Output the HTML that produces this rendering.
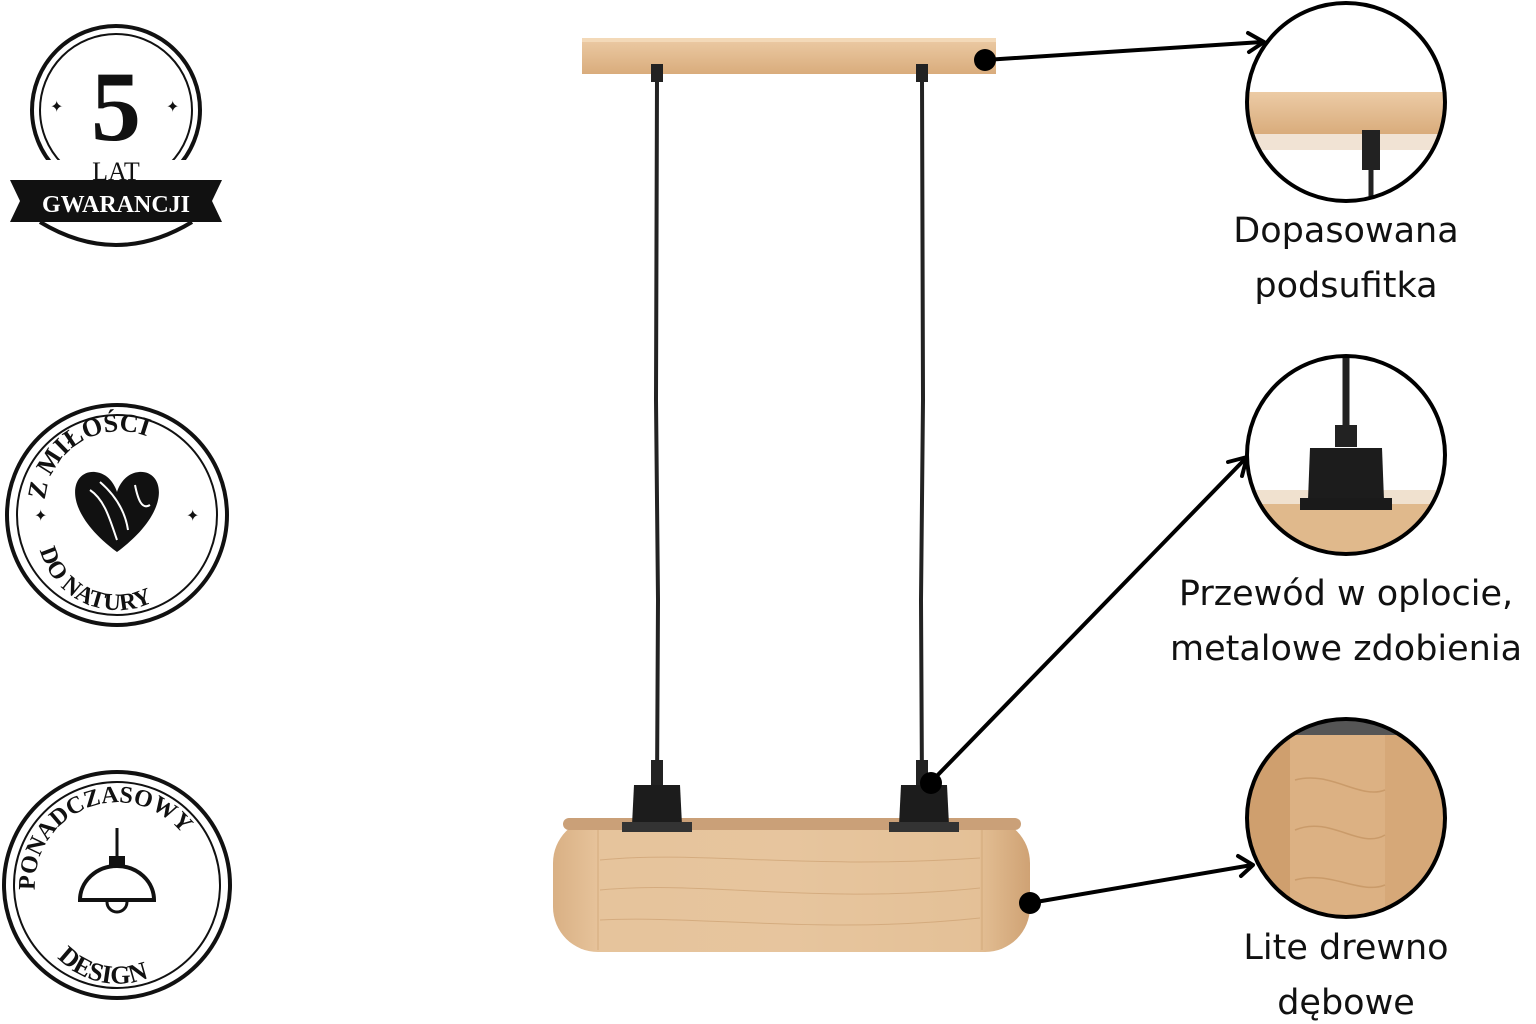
<!DOCTYPE html>
<html><head><meta charset="utf-8"><style>
html,body{margin:0;padding:0;background:#fff;}
svg{display:block;}
</style></head><body>
<svg width="1536" height="1024" viewBox="0 0 1536 1024" xmlns="http://www.w3.org/2000/svg" font-family="Liberation Sans, sans-serif">
<defs>
<linearGradient id="wood" x1="0" y1="0" x2="1" y2="0">
<stop offset="0" stop-color="#d9b084"/><stop offset="0.1" stop-color="#e7c49c"/><stop offset="0.5" stop-color="#e8c7a0"/><stop offset="0.9" stop-color="#e2bd92"/><stop offset="1" stop-color="#cfa274"/>
</linearGradient>
<linearGradient id="bar" x1="0" y1="0" x2="0" y2="1">
<stop offset="0" stop-color="#eccba5"/><stop offset="1" stop-color="#d9ac7c"/>
</linearGradient>
<clipPath id="c1"><circle cx="1346" cy="102" r="99"/></clipPath>
<clipPath id="c2"><circle cx="1346" cy="455" r="99"/></clipPath>
<clipPath id="c3"><circle cx="1346" cy="818" r="99"/></clipPath>
</defs>

<!-- Badge 1 -->
<circle cx="116" cy="110" r="84" fill="none" stroke="#111" stroke-width="4"/>
<circle cx="116" cy="110" r="76" fill="none" stroke="#111" stroke-width="2"/>
<path d="M40 222 Q116 268 192 222" fill="none" stroke="#111" stroke-width="4"/>
<rect x="40" y="160" width="152" height="30" fill="#fff"/>
<text x="116" y="140" font-family="Liberation Serif, serif" font-weight="bold" font-size="100" text-anchor="middle" fill="#111">5</text>
<text x="116" y="180" font-family="Liberation Serif, serif" font-size="26" text-anchor="middle" fill="#111">LAT</text>
<polygon points="10,180 222,180 212,201 222,222 10,222 20,201" fill="#111"/>
<text x="116" y="212" font-family="Liberation Serif, serif" font-weight="bold" font-size="24" text-anchor="middle" fill="#fff">GWARANCJI</text>
<text x="50" y="112" font-size="16" fill="#111">✦</text><text x="166" y="112" font-size="16" fill="#111">✦</text>

<!-- Badge 2 -->
<circle cx="117" cy="515" r="110" fill="none" stroke="#111" stroke-width="4"/>
<circle cx="117" cy="515" r="100" fill="none" stroke="#111" stroke-width="2"/>
<path d="M117 552 C60 510 70 470 95 472 C108 473 115 485 117 492 C119 485 126 473 139 472 C164 470 174 510 117 552Z" fill="#111"/>
<path d="M90 490 C105 500 110 520 117 540 M100 482 C115 495 125 510 128 530 M135 485 C138 500 142 510 150 505" stroke="#fff" stroke-width="2" fill="none"/>
<path id="arc2" d="M45 500 A75 75 0 0 1 190 480" fill="none"/>
<text font-family="Liberation Serif, serif" font-weight="bold" font-size="26" fill="#111"><textPath href="#arc2">Z MIŁOŚCI</textPath></text>
<path id="arc2b" d="M40 550 A80 80 0 0 0 195 550" fill="none"/>
<text font-family="Liberation Serif, serif" font-weight="bold" font-size="24" fill="#111"><textPath href="#arc2b">DO NATURY</textPath></text>
<text x="34" y="521" font-size="16" fill="#111">✦</text><text x="186" y="521" font-size="16" fill="#111">✦</text>

<!-- Badge 3 -->
<circle cx="117" cy="885" r="113" fill="none" stroke="#111" stroke-width="4"/>
<circle cx="117" cy="885" r="103" fill="none" stroke="#111" stroke-width="2"/>
<path id="arc3" d="M35 890 A82 82 0 0 1 200 880" fill="none"/>
<text font-family="Liberation Serif, serif" font-weight="bold" font-size="24" fill="#111"><textPath href="#arc3">PONADCZASOWY</textPath></text>
<path id="arc3b" d="M45 940 A82 82 0 0 0 190 940" fill="none"/>
<text font-family="Liberation Serif, serif" font-weight="bold" font-size="26" fill="#111"><textPath href="#arc3b" startOffset="12%">DESIGN</textPath></text>
<line x1="117" y1="828" x2="117" y2="858" stroke="#111" stroke-width="3"/>
<rect x="109" y="856" width="16" height="10" fill="#111"/>
<path d="M80 900 A37 34 0 0 1 154 900 Z" fill="none" stroke="#111" stroke-width="4"/>
<path d="M107 902 A10 10 0 0 0 127 902" fill="none" stroke="#111" stroke-width="3"/>

<!-- canopy -->
<rect x="582" y="38" width="414" height="36" fill="url(#bar)"/>
<rect x="582" y="38" width="414" height="4" fill="#f3d9b8"/>
<rect x="651" y="64" width="12" height="18" fill="#222"/>
<rect x="916" y="64" width="12" height="18" fill="#222"/>
<!-- cables -->
<path d="M657 80 L656 400 L658 600 L657 790" stroke="#222" stroke-width="4" fill="none"/>
<path d="M922 80 L923 400 L921 600 L922 790" stroke="#222" stroke-width="4" fill="none"/>
<rect x="651" y="760" width="12" height="25" fill="#222"/>
<rect x="916" y="760" width="12" height="25" fill="#222"/>
<!-- box -->
<rect x="553" y="818" width="477" height="134" rx="45" ry="45" fill="url(#wood)"/>
<rect x="600" y="822" width="380" height="130" fill="#e5c39b" opacity="0.5"/>
<rect x="563" y="818" width="458" height="12" rx="6" fill="#caa078"/>
<g stroke="#c99c6c" stroke-width="1" opacity="0.6" fill="none">
<path d="M600 860 C700 850 800 870 980 858"/><path d="M600 890 C700 880 820 905 980 888"/><path d="M600 920 C700 915 820 935 980 918"/>
<line x1="598" y1="830" x2="598" y2="950"/><line x1="982" y1="830" x2="982" y2="950"/>
</g>
<!-- sockets -->
<path d="M634 785 L680 785 L682 825 L632 825 Z" fill="#1c1c1c"/>
<rect x="622" y="822" width="70" height="10" fill="#333"/>
<path d="M901 785 L947 785 L949 825 L899 825 Z" fill="#1c1c1c"/>
<rect x="889" y="822" width="70" height="10" fill="#333"/>

<!-- arrows -->
<g stroke="#000" stroke-width="4" fill="none" stroke-linecap="round" stroke-linejoin="round">
<line x1="985" y1="60" x2="1262" y2="42"/><polyline points="1248,33 1264,42 1249,52"/>
<line x1="930" y1="783" x2="1246" y2="458"/><polyline points="1228,462 1247,457 1242,476"/>
<line x1="1030" y1="903" x2="1252" y2="865"/><polyline points="1238,856 1253,865 1241,876"/>
</g>
<circle cx="985" cy="60" r="11" fill="#000"/>
<circle cx="931" cy="783" r="11" fill="#000"/>
<circle cx="1030" cy="903" r="11" fill="#000"/>

<!-- detail circles -->
<g clip-path="url(#c1)">
<rect x="1240" y="0" width="220" height="210" fill="#fff"/>
<rect x="1240" y="92" width="220" height="42" fill="url(#bar)"/>
<rect x="1240" y="134" width="220" height="16" fill="#f1e3d4"/>
<rect x="1362" y="130" width="18" height="40" fill="#222"/>
<line x1="1371" y1="170" x2="1371" y2="210" stroke="#222" stroke-width="5"/>
</g>
<circle cx="1346" cy="102" r="99" fill="none" stroke="#000" stroke-width="4"/>

<g clip-path="url(#c2)">
<rect x="1240" y="350" width="220" height="210" fill="#fff"/>
<line x1="1346" y1="350" x2="1346" y2="430" stroke="#222" stroke-width="7"/>
<rect x="1335" y="425" width="22" height="22" fill="#222"/>
<path d="M1240 495 L1460 495 L1460 560 L1240 560 Z" fill="#e0b98c"/>
<rect x="1240" y="490" width="220" height="14" fill="#f0e1cf"/>
<path d="M1310 448 L1382 448 L1384 500 L1308 500 Z" fill="#1c1c1c"/>
<rect x="1300" y="498" width="92" height="12" fill="#1a1a1a"/>
</g>
<circle cx="1346" cy="455" r="99" fill="none" stroke="#000" stroke-width="4"/>

<g clip-path="url(#c3)">
<rect x="1240" y="715" width="220" height="210" fill="#dcb183"/>
<rect x="1240" y="715" width="50" height="210" fill="#cf9f6e"/>
<rect x="1385" y="715" width="75" height="210" fill="#d6a878"/>
<rect x="1240" y="715" width="220" height="20" fill="#555"/>
<g stroke="#c29260" stroke-width="1.5" fill="none" opacity="0.7">
<path d="M1295 780 C1330 770 1360 800 1385 790"/><path d="M1295 830 C1330 815 1360 850 1385 835"/><path d="M1295 880 C1330 870 1360 895 1385 885"/>
</g>
</g>
<circle cx="1346" cy="818" r="99" fill="none" stroke="#000" stroke-width="4"/>

<!-- labels -->
<g font-family="DejaVu Sans, sans-serif" font-size="35" fill="#111" text-anchor="middle">
<text x="1346" y="242">Dopasowana</text>
<text x="1346" y="297">podsufitka</text>
<text x="1346" y="605">Przewód w oplocie,</text>
<text x="1346" y="660">metalowe zdobienia</text>
<text x="1346" y="959">Lite drewno</text>
<text x="1346" y="1014">dębowe</text>
</g>
</svg>
</body></html>
